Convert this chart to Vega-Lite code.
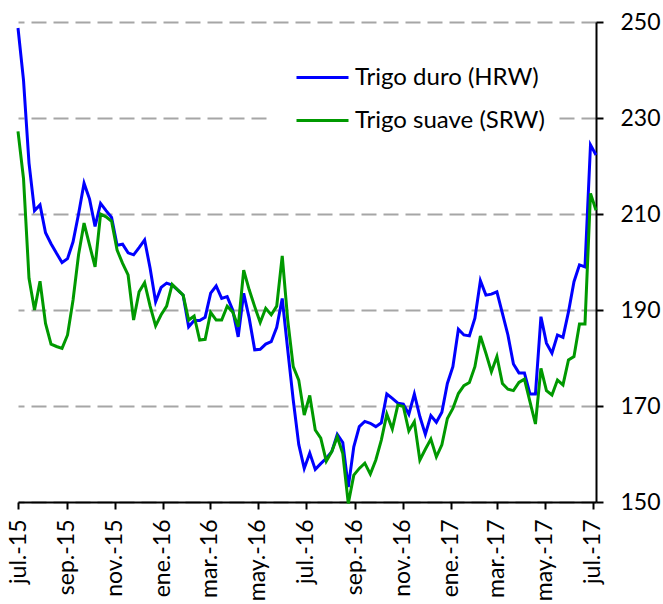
{
  "$schema": "https://vega.github.io/schema/vega-lite/v6.json",
  "width": 578,
  "height": 480,
  "autosize": "none",
  "padding": {"left": 18, "top": 22, "right": 67, "bottom": 102},
  "background": "white",
  "config": {"view": {"stroke": null}, "font": "Lato"},
  "data": {"values": [
    {"fecha": "2015-07-01", "HRW": 248.75, "SRW": 227.2},
    {"fecha": "2015-07-08", "HRW": 237.9, "SRW": 217.4},
    {"fecha": "2015-07-15", "HRW": 220.6, "SRW": 196.6},
    {"fecha": "2015-07-22", "HRW": 210.7, "SRW": 190.0},
    {"fecha": "2015-07-29", "HRW": 211.9, "SRW": 196.0},
    {"fecha": "2015-08-05", "HRW": 206.1, "SRW": 187.2},
    {"fecha": "2015-08-12", "HRW": 203.8, "SRW": 182.9},
    {"fecha": "2015-08-19", "HRW": 201.8, "SRW": 182.4},
    {"fecha": "2015-08-26", "HRW": 199.9, "SRW": 182.0},
    {"fecha": "2015-09-02", "HRW": 200.7, "SRW": 184.8},
    {"fecha": "2015-09-09", "HRW": 204.2, "SRW": 192.1},
    {"fecha": "2015-09-16", "HRW": 210.0, "SRW": 201.5},
    {"fecha": "2015-09-23", "HRW": 216.4, "SRW": 208.1},
    {"fecha": "2015-09-30", "HRW": 213.1, "SRW": 203.5},
    {"fecha": "2015-10-07", "HRW": 207.4, "SRW": 199.0},
    {"fecha": "2015-10-14", "HRW": 212.2, "SRW": 210.0},
    {"fecha": "2015-10-21", "HRW": 210.7, "SRW": 209.4},
    {"fecha": "2015-10-28", "HRW": 209.3, "SRW": 208.5},
    {"fecha": "2015-11-04", "HRW": 203.5, "SRW": 202.5},
    {"fecha": "2015-11-11", "HRW": 203.7, "SRW": 199.7},
    {"fecha": "2015-11-18", "HRW": 201.9, "SRW": 197.3},
    {"fecha": "2015-11-25", "HRW": 201.5, "SRW": 187.9},
    {"fecha": "2015-12-02", "HRW": 203.0, "SRW": 193.8},
    {"fecha": "2015-12-09", "HRW": 204.6, "SRW": 195.7},
    {"fecha": "2015-12-16", "HRW": 198.7, "SRW": 190.8},
    {"fecha": "2015-12-23", "HRW": 191.7, "SRW": 186.7},
    {"fecha": "2015-12-30", "HRW": 194.7, "SRW": 189.0},
    {"fecha": "2016-01-06", "HRW": 195.6, "SRW": 190.8},
    {"fecha": "2016-01-13", "HRW": 195.2, "SRW": 195.35},
    {"fecha": "2016-01-20", "HRW": 194.2, "SRW": 194.2},
    {"fecha": "2016-01-27", "HRW": 193.1, "SRW": 193.1},
    {"fecha": "2016-02-03", "HRW": 186.5, "SRW": 187.9},
    {"fecha": "2016-02-10", "HRW": 187.8, "SRW": 188.75},
    {"fecha": "2016-02-17", "HRW": 187.8, "SRW": 183.75},
    {"fecha": "2016-02-24", "HRW": 188.5, "SRW": 183.9},
    {"fecha": "2016-03-02", "HRW": 193.5, "SRW": 189.5},
    {"fecha": "2016-03-09", "HRW": 195.0, "SRW": 187.9},
    {"fecha": "2016-03-16", "HRW": 192.4, "SRW": 187.9},
    {"fecha": "2016-03-23", "HRW": 192.8, "SRW": 190.8},
    {"fecha": "2016-03-30", "HRW": 190.0, "SRW": 189.6},
    {"fecha": "2016-04-06", "HRW": 184.4, "SRW": 186.5},
    {"fecha": "2016-04-13", "HRW": 193.5, "SRW": 198.3},
    {"fecha": "2016-04-20", "HRW": 188.3, "SRW": 194.2},
    {"fecha": "2016-04-27", "HRW": 181.7, "SRW": 190.7},
    {"fecha": "2016-05-04", "HRW": 181.8, "SRW": 187.4},
    {"fecha": "2016-05-11", "HRW": 182.9, "SRW": 190.35},
    {"fecha": "2016-05-18", "HRW": 183.4, "SRW": 189.0},
    {"fecha": "2016-05-25", "HRW": 186.4, "SRW": 190.8},
    {"fecha": "2016-06-01", "HRW": 192.4, "SRW": 201.25},
    {"fecha": "2016-06-08", "HRW": 181.7, "SRW": 187.9},
    {"fecha": "2016-06-15", "HRW": 171.25, "SRW": 178.2},
    {"fecha": "2016-06-22", "HRW": 162.0, "SRW": 175.4},
    {"fecha": "2016-06-29", "HRW": 157.0, "SRW": 168.1},
    {"fecha": "2016-07-06", "HRW": 160.2, "SRW": 172.2},
    {"fecha": "2016-07-13", "HRW": 156.8, "SRW": 165.0},
    {"fecha": "2016-07-20", "HRW": 158.0, "SRW": 163.3},
    {"fecha": "2016-07-27", "HRW": 159.1, "SRW": 158.5},
    {"fecha": "2016-08-03", "HRW": 160.5, "SRW": 160.5},
    {"fecha": "2016-08-10", "HRW": 164.1, "SRW": 163.6},
    {"fecha": "2016-08-17", "HRW": 162.4, "SRW": 160.1},
    {"fecha": "2016-08-24", "HRW": 153.1, "SRW": 149.7},
    {"fecha": "2016-08-31", "HRW": 161.5, "SRW": 155.6},
    {"fecha": "2016-09-07", "HRW": 165.7, "SRW": 157.0},
    {"fecha": "2016-09-14", "HRW": 166.8, "SRW": 158.1},
    {"fecha": "2016-09-21", "HRW": 166.4, "SRW": 155.8},
    {"fecha": "2016-09-28", "HRW": 165.7, "SRW": 158.75},
    {"fecha": "2016-10-05", "HRW": 166.5, "SRW": 162.9},
    {"fecha": "2016-10-12", "HRW": 172.5, "SRW": 168.3},
    {"fecha": "2016-10-19", "HRW": 171.6, "SRW": 165.2},
    {"fecha": "2016-10-26", "HRW": 170.6, "SRW": 170.2},
    {"fecha": "2016-11-02", "HRW": 170.4, "SRW": 169.9},
    {"fecha": "2016-11-09", "HRW": 168.3, "SRW": 164.8},
    {"fecha": "2016-11-16", "HRW": 172.5, "SRW": 166.75},
    {"fecha": "2016-11-23", "HRW": 167.8, "SRW": 158.75},
    {"fecha": "2016-11-30", "HRW": 164.1, "SRW": 161.0},
    {"fecha": "2016-12-07", "HRW": 168.0, "SRW": 163.1},
    {"fecha": "2016-12-14", "HRW": 166.6, "SRW": 159.4},
    {"fecha": "2016-12-21", "HRW": 168.7, "SRW": 161.9},
    {"fecha": "2016-12-28", "HRW": 174.7, "SRW": 167.4},
    {"fecha": "2017-01-04", "HRW": 178.2, "SRW": 169.5},
    {"fecha": "2017-01-11", "HRW": 186.0, "SRW": 172.6},
    {"fecha": "2017-01-18", "HRW": 184.8, "SRW": 174.25},
    {"fecha": "2017-01-25", "HRW": 184.6, "SRW": 174.9},
    {"fecha": "2017-02-01", "HRW": 188.3, "SRW": 178.2},
    {"fecha": "2017-02-08", "HRW": 196.1, "SRW": 184.6},
    {"fecha": "2017-02-15", "HRW": 193.1, "SRW": 181.0},
    {"fecha": "2017-02-22", "HRW": 193.3, "SRW": 177.15},
    {"fecha": "2017-03-01", "HRW": 193.8, "SRW": 180.3},
    {"fecha": "2017-03-08", "HRW": 189.3, "SRW": 174.7},
    {"fecha": "2017-03-15", "HRW": 184.8, "SRW": 173.5},
    {"fecha": "2017-03-22", "HRW": 178.75, "SRW": 173.2},
    {"fecha": "2017-03-29", "HRW": 176.9, "SRW": 174.9},
    {"fecha": "2017-04-05", "HRW": 176.9, "SRW": 175.6},
    {"fecha": "2017-04-12", "HRW": 172.5, "SRW": 170.9},
    {"fecha": "2017-04-19", "HRW": 172.5, "SRW": 166.25},
    {"fecha": "2017-04-26", "HRW": 188.6, "SRW": 177.85},
    {"fecha": "2017-05-03", "HRW": 183.1, "SRW": 173.2},
    {"fecha": "2017-05-10", "HRW": 181.0, "SRW": 172.3},
    {"fecha": "2017-05-17", "HRW": 184.8, "SRW": 175.4},
    {"fecha": "2017-05-24", "HRW": 184.3, "SRW": 174.4},
    {"fecha": "2017-05-31", "HRW": 189.6, "SRW": 179.6},
    {"fecha": "2017-06-07", "HRW": 195.9, "SRW": 180.3},
    {"fecha": "2017-06-14", "HRW": 199.4, "SRW": 187.1},
    {"fecha": "2017-06-21", "HRW": 199.0, "SRW": 187.1},
    {"fecha": "2017-06-28", "HRW": 224.4, "SRW": 214.3},
    {"fecha": "2017-07-05", "HRW": 222.3, "SRW": 210.8}
  ]},
  "transform": [{"fold": ["HRW", "SRW"], "as": ["serie", "precio"]}],
  "mark": {"type": "line", "strokeWidth": 3},
  "encoding": {
    "x": {
      "field": "fecha",
      "type": "temporal",
      "scale": {
        "type": "utc",
        "domain": [
          {"year": 2015, "month": 7, "date": 1, "utc": true},
          {"year": 2017, "month": 7, "date": 5, "utc": true}
        ]
      },
      "axis": {
        "title": null,
        "grid": false,
        "values": [
          {"year": 2015, "month": 7, "date": 1, "utc": true},
          {"year": 2015, "month": 9, "date": 1, "utc": true},
          {"year": 2015, "month": 11, "date": 1, "utc": true},
          {"year": 2016, "month": 1, "date": 1, "utc": true},
          {"year": 2016, "month": 3, "date": 1, "utc": true},
          {"year": 2016, "month": 5, "date": 1, "utc": true},
          {"year": 2016, "month": 7, "date": 1, "utc": true},
          {"year": 2016, "month": 9, "date": 1, "utc": true},
          {"year": 2016, "month": 11, "date": 1, "utc": true},
          {"year": 2017, "month": 1, "date": 1, "utc": true},
          {"year": 2017, "month": 3, "date": 1, "utc": true},
          {"year": 2017, "month": 5, "date": 1, "utc": true},
          {"year": 2017, "month": 7, "date": 1, "utc": true}
        ],
        "labelExpr": "['ene','feb','mar','abr','may','jun','jul','ago','sep','oct','nov','dic'][utcmonth(datum.value)] + '.-' + utcFormat(datum.value, '%y')",
        "labelAngle": -90,
        "labelFontSize": 23,
        "labelFont": "Lato",
        "labelColor": "black",
        "labelPadding": 10,
        "labelOverlap": false,
        "labelBound": false,
        "labelFlush": false,
        "domainColor": "black",
        "domainWidth": 2,
        "tickColor": "black",
        "tickWidth": 2,
        "tickSize": 7
      }
    },
    "y": {
      "field": "precio",
      "type": "quantitative",
      "scale": {"domain": [150, 250], "nice": false, "zero": false},
      "axis": {
        "orient": "right",
        "title": null,
        "values": [150, 170, 190, 210, 230, 250],
        "grid": true,
        "gridDash": [15, 7],
        "gridColor": "#a6a6a6",
        "gridWidth": 2,
        "domainColor": "black",
        "domainWidth": 2,
        "tickColor": "black",
        "tickWidth": 2,
        "tickSize": 7,
        "labelFontSize": 23,
        "labelFont": "Lato",
        "labelColor": "black",
        "labelPadding": 17,
        "labelFlush": false
      }
    },
    "color": {
      "field": "serie",
      "type": "nominal",
      "scale": {"domain": ["HRW", "SRW"], "range": ["#0000ff", "#009900"]},
      "legend": {
        "title": null,
        "orient": "none",
        "legendX": 252,
        "legendY": 29,
        "zindex": 5,
        "symbolType": "M0,0H4",
        "symbolSize": 676,
        "symbolStrokeWidth": 3,
        "labelFontSize": 24,
        "labelFont": "Lato",
        "labelColor": "black",
        "labelLimit": 0,
        "labelOffset": 44,
        "rowPadding": 16,
        "padding": 12,
        "fillColor": "white",
        "labelExpr": "datum.label == 'HRW' ? 'Trigo duro (HRW)' : 'Trigo suave (SRW)'"
      }
    }
  }
}
